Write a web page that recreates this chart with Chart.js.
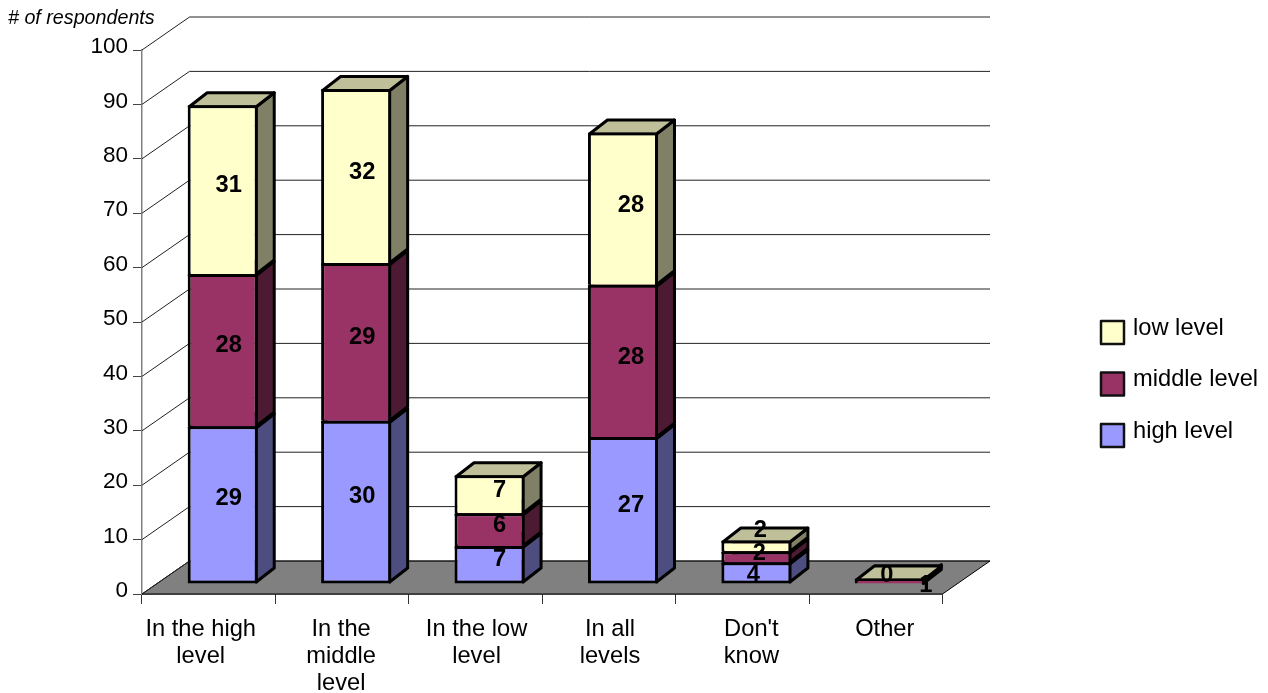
<!DOCTYPE html>
<html>
<head>
<meta charset="utf-8">
<title>Respondents by level</title>
<script src="https://cdn.jsdelivr.net/npm/chart.js@4"></script>
<style>
  html, body { margin: 0; padding: 0; background: #fff; }
  canvas { display: block; }
</style>
</head>
<body>
<canvas id="chart" width="1268" height="693"></canvas>
<script>
const categories = [['In the high', 'level'], ['In the', 'middle', 'level'], ['In the low', 'level'], ['In all', 'levels'], ["Don't", 'know'], ['Other']];
const seriesNames = ['high level', 'middle level', 'low level'];
const highLevel = [29, 30, 7, 27, 4, null];
const middleLevel = [28, 29, 6, 28, 2, 1];
const lowLevel = [31, 32, 7, 28, 2, 0];
const yTicks = [0, 10, 20, 30, 40, 50, 60, 70, 80, 90, 100];

const FONT = '"Liberation Sans", Arial, sans-serif';
const FONT_SIZE = 23.7;
const EDGE = 3;
const faceColors = ['#9999FF', '#993366', '#FFFFCC'];
const sideColors = ['#4D4D80', '#4D1A33', '#808066'];
const topColors = ['#7373BF', '#732650', '#BFBF99'];

// 3d look: how far the back wall and the bars sit from the axis plane
const wall = { x: 47.5, y: 33 };
const barShift = { x: 14, y: 10 };
const barDepth = { x: 18, y: 14 };

// hand placed labels in the original, nudges from the segment centre
const labelDx = [[6, 6, 10, 8, -3, 0], [6, 6, 10, 8, 3, 36], [6, 6, 10, 8, 4, -3]];
const labelDy = [[-6, -6, -5, -5, 3, 0], [-5, -4, -4, -3, -3, 4], [-4, -4, -4, -3, -15, -3]];
const tickDx = [-8, -1, 1, 1, 9, 9];

function poly(ctx, pts, fill, lineWidth) {
    ctx.beginPath();
    pts.forEach((p, i) => i ? ctx.lineTo(p[0], p[1]) : ctx.moveTo(p[0], p[1]));
    ctx.closePath();
    if (fill) { ctx.fillStyle = fill; ctx.fill(); }
    ctx.lineWidth = lineWidth;
    ctx.strokeStyle = '#000';
    ctx.lineJoin = 'round';
    ctx.stroke();
}

const depthPlugin = {
    id: 'depth',
    beforeDatasetsDraw(chart) {
        const { ctx, scales: { x, y } } = chart;
        const left = x.left, right = x.right, y0 = y.getPixelForValue(0);

        // floor
        poly(ctx, [[left, y0], [right, y0], [right + wall.x, y0 - wall.y], [left + wall.x, y0 - wall.y]], '#808080', 1);

        // side wall diagonals and back wall lines
        yTicks.forEach(v => {
            const py = y.getPixelForValue(v);
            ctx.beginPath();
            ctx.moveTo(left, py);
            ctx.lineTo(left + wall.x, py - wall.y);
            ctx.lineTo(right + wall.x, py - wall.y);
            ctx.lineWidth = 1;
            ctx.strokeStyle = '#222';
            ctx.stroke();
        });

        // right side and top of each segment, bottom of the stack first
        ctx.save();
        ctx.translate(barShift.x, -barShift.y);
        chart.data.datasets.forEach((ds, i) => {
            chart.getDatasetMeta(i).data.forEach((bar, j) => {
                if (ds.data[j] === null) return;
                const l = bar.x - bar.width / 2 + EDGE / 2, r = bar.x + bar.width / 2 - EDGE / 2;
                const t = bar.y + EDGE / 2, b = bar.base - (i === 0 ? EDGE / 2 : 0);
                poly(ctx, [[r, t], [r + barDepth.x, t - barDepth.y], [r + barDepth.x, b - barDepth.y], [r, b]], sideColors[i], EDGE);
                poly(ctx, [[l, t], [l + barDepth.x, t - barDepth.y], [r + barDepth.x, t - barDepth.y], [r, t]], topColors[i], EDGE);
            });
        });
        ctx.restore();
    },
    beforeDatasetDraw(chart) {
        chart.ctx.save();
        chart.ctx.translate(barShift.x, -barShift.y);
    },
    afterDatasetDraw(chart) {
        chart.ctx.restore();
    },
    afterDatasetsDraw(chart) {
        const { ctx, scales: { x } } = chart;
        ctx.save();
        ctx.fillStyle = '#000';
        ctx.textBaseline = 'middle';
        ctx.textAlign = 'center';

        // value labels
        ctx.font = 'bold ' + FONT_SIZE + 'px ' + FONT;
        chart.data.datasets.forEach((ds, i) => {
            chart.getDatasetMeta(i).data.forEach((bar, j) => {
                if (ds.data[j] === null) return;
                const cy = (bar.y + bar.base) / 2 - barShift.y;
                ctx.fillText(ds.data[j], bar.x + barShift.x + labelDx[i][j], cy + labelDy[i][j]);
            });
        });

        // category labels
        ctx.font = FONT_SIZE + 'px ' + FONT;
        categories.forEach((lines, i) => {
            lines.forEach((line, k) => {
                ctx.fillText(line, x.getPixelForValue(i) + tickDx[i], 629 + k * 27);
            });
        });

        // axis caption
        ctx.textAlign = 'left';
        ctx.font = 'italic 19.7px ' + FONT;
        ctx.fillText('# of respondents', 8, 19);

        // legend, top entry is the last series
        seriesNames.slice().reverse().forEach((name, k) => {
            const i = seriesNames.length - 1 - k;
            const top = 321 + k * 51.5;
            ctx.fillStyle = faceColors[i];
            ctx.fillRect(1101, top, 23, 23);
            ctx.lineWidth = 2.5;
            ctx.strokeStyle = '#111';
            ctx.strokeRect(1101, top, 23, 23);
            ctx.fillStyle = '#000';
            ctx.font = FONT_SIZE + 'px ' + FONT;
            ctx.fillText(name, 1133, top + 7);
        });
        ctx.restore();
    }
};

new Chart(document.getElementById('chart'), {
    type: 'bar',
    data: {
        labels: categories.map(c => c.join(' ')),
        datasets: [highLevel, middleLevel, lowLevel].map((values, i) => ({
            label: seriesNames[i],
            data: values,
            backgroundColor: faceColors[i],
            borderColor: '#000',
            // upper segments share the top edge of the one below
            borderWidth: { top: EDGE, left: EDGE, right: EDGE, bottom: i === 0 ? EDGE : 0 },
            borderSkipped: false,
            clip: false,
            barPercentage: 0.525,
            categoryPercentage: 1
        }))
    },
    options: {
        responsive: false,
        animation: false,
        layout: { padding: { top: 50, right: 325.5, left: 0, bottom: 0 } },
        plugins: { legend: { display: false }, tooltip: { enabled: false } },
        scales: {
            x: {
                stacked: true,
                afterFit(s) { s.height = 99; },
                ticks: { display: false },
                border: { color: '#000', width: 1.5 },
                grid: { offset: true, drawOnChartArea: false, drawTicks: true, tickLength: 10, color: '#333' }
            },
            y: {
                stacked: true,
                min: 0,
                max: 100,
                afterFit(s) { s.width = 142; },
                afterBuildTicks(s) { s.ticks = yTicks.map(v => ({ value: v })); },
                ticks: { color: '#000', font: { family: FONT, size: 22.5 }, padding: 5, labelOffset: -3 },
                border: { color: '#808080', width: 1.5 },
                grid: { drawOnChartArea: false, drawTicks: true, tickLength: 9, color: '#444' }
            }
        }
    },
    plugins: [depthPlugin]
});
</script>
</body>
</html>
